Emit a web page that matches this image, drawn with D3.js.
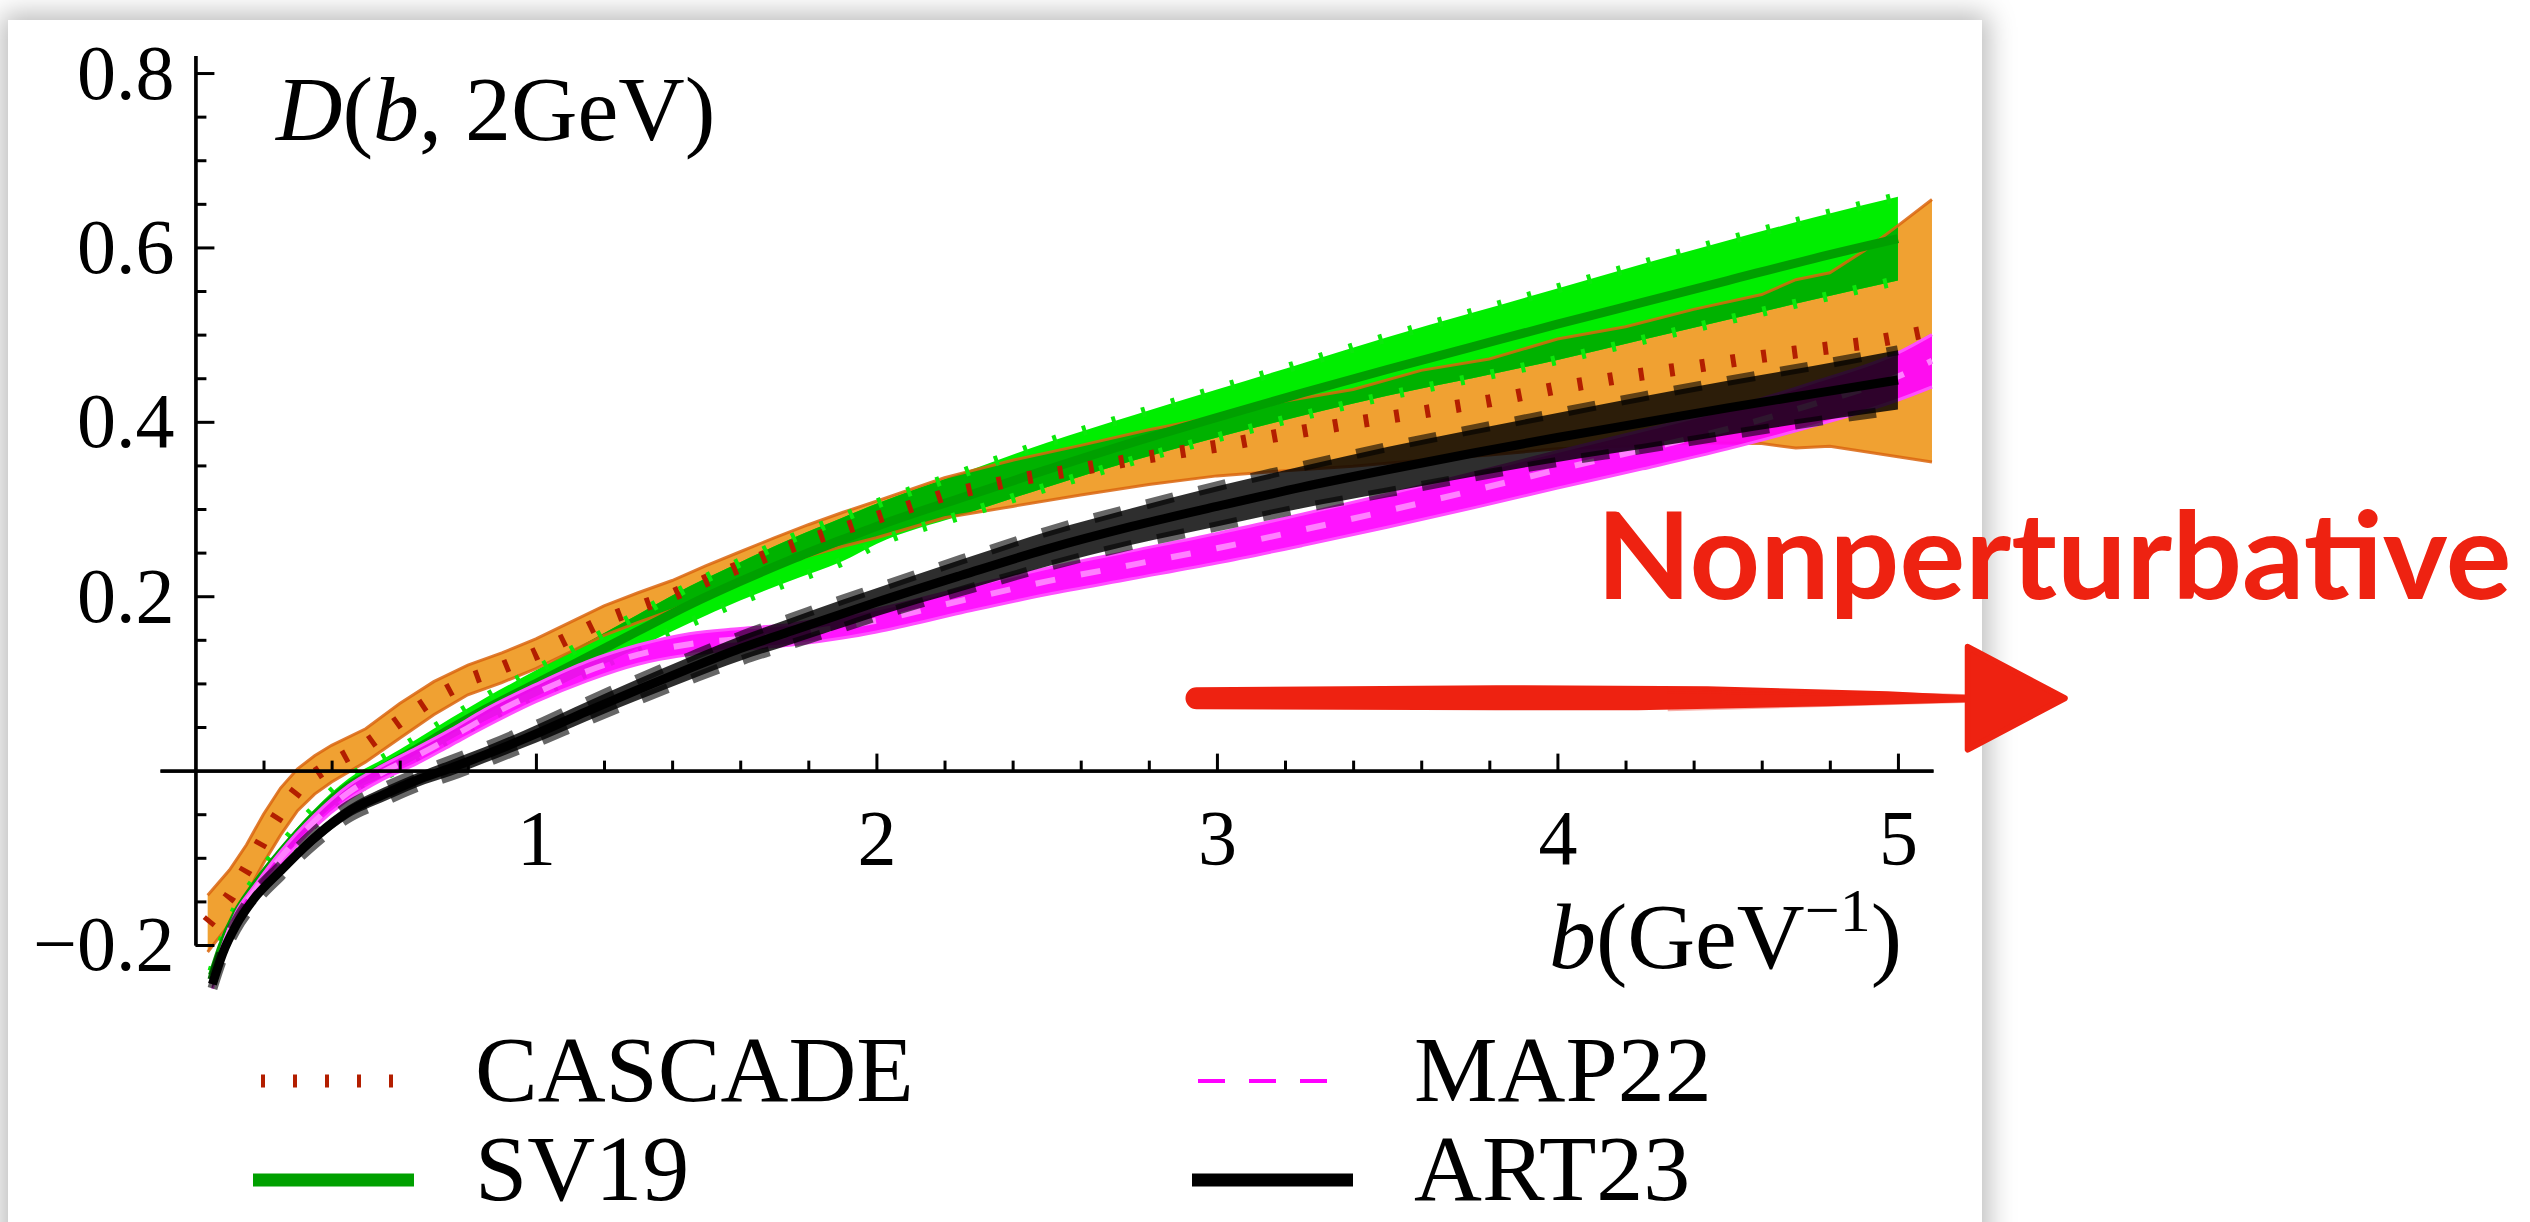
<!DOCTYPE html>
<html>
<head>
<meta charset="utf-8">
<script src="https://cdn.jsdelivr.net/npm/d3@7"></script>
<style>
  html, body { margin: 0; padding: 0; background: #fff; }
  body { width: 2530px; height: 1222px; position: relative; overflow: hidden; }
  #card { position: absolute; left: 8px; top: 20px; width: 1974px; height: 1260px;
          background: #fff; box-shadow: 0 0 26px 6px rgba(0,0,0,0.28); }
  #chart { position: absolute; left: 0; top: 0; }
  text { font-family: 'Liberation Serif', 'Times New Roman', serif; fill: #000; }
</style>
</head>
<body>
<div id="card"></div>
<svg id="chart" width="2530" height="1222"></svg>
<script>
// ---- data: D(b, 2GeV) vs b (GeV^-1) ----
const xTicks = [1, 2, 3, 4, 5];
const yTicks = [-0.2, 0.2, 0.4, 0.6, 0.8];

const cascadeB   = [0.036, 0.1, 0.15, 0.2, 0.25, 0.3, 0.35, 0.4, 0.5, 0.6, 0.7, 0.8, 0.9, 1.0, 1.1, 1.2, 1.3, 1.4, 1.5, 1.6, 1.7, 1.8, 1.9, 2.0, 2.2, 2.4, 2.6, 2.8, 3.0, 3.2, 3.4, 3.6, 3.8, 4.0, 4.2, 4.4, 4.6, 4.7, 4.8, 4.9, 5.0, 5.1];
const cascadeMid = [-0.175, -0.145, -0.113, -0.078, -0.047, -0.022, -0.005, 0.008, 0.029, 0.057, 0.083, 0.104, 0.118, 0.134, 0.153, 0.172, 0.187, 0.201, 0.218, 0.234, 0.25, 0.264, 0.277, 0.29, 0.316, 0.333, 0.346, 0.36, 0.372, 0.386, 0.399, 0.411, 0.424, 0.439, 0.452, 0.463, 0.475, 0.48, 0.485, 0.49, 0.497, 0.505];
const cascadeLo  = [-0.208, -0.176, -0.142, -0.106, -0.074, -0.046, -0.027, -0.013, 0.01, 0.037, 0.064, 0.087, 0.101, 0.117, 0.136, 0.155, 0.17, 0.184, 0.201, 0.217, 0.233, 0.246, 0.257, 0.267, 0.29, 0.303, 0.316, 0.328, 0.338, 0.344, 0.349, 0.356, 0.362, 0.369, 0.372, 0.376, 0.375, 0.37, 0.372, 0.366, 0.36, 0.354];
const cascadeHi  = [-0.143, -0.114, -0.085, -0.05, -0.02, 0.002, 0.017, 0.029, 0.048, 0.077, 0.102, 0.121, 0.135, 0.151, 0.17, 0.189, 0.204, 0.218, 0.235, 0.251, 0.267, 0.282, 0.296, 0.309, 0.336, 0.356, 0.373, 0.391, 0.406, 0.424, 0.437, 0.459, 0.472, 0.495, 0.509, 0.529, 0.546, 0.563, 0.571, 0.596, 0.625, 0.655];

const sv19B   = [0.05, 0.08, 0.12, 0.17, 0.25, 0.35, 0.45, 0.55, 0.65, 0.75, 0.85, 1.0, 1.15, 1.3, 1.45, 1.6, 1.75, 1.9, 2.0, 2.25, 2.5, 2.75, 3.0, 3.25, 3.5, 3.75, 4.0, 4.25, 4.5, 4.75, 5.0];
const sv19Mid = [-0.235, -0.2, -0.165, -0.135, -0.095, -0.052, -0.018, 0.003, 0.025, 0.048, 0.07, 0.1, 0.13, 0.16, 0.19, 0.217, 0.242, 0.265, 0.28, 0.313, 0.345, 0.376, 0.405, 0.433, 0.46, 0.486, 0.512, 0.537, 0.562, 0.587, 0.61];
const sv19Lo  = [-0.24, -0.205, -0.171, -0.141, -0.102, -0.06, -0.027, -0.007, 0.014, 0.036, 0.057, 0.085, 0.113, 0.141, 0.169, 0.195, 0.218, 0.24, 0.26, 0.293, 0.325, 0.355, 0.382, 0.407, 0.43, 0.45, 0.471, 0.494, 0.517, 0.54, 0.562];
const sv19Hi  = [-0.23, -0.195, -0.159, -0.129, -0.088, -0.044, -0.009, 0.013, 0.036, 0.06, 0.083, 0.115, 0.147, 0.179, 0.211, 0.239, 0.266, 0.29, 0.306, 0.341, 0.376, 0.407, 0.437, 0.467, 0.497, 0.525, 0.553, 0.581, 0.608, 0.634, 0.658];

const map22B   = [0.05, 0.08, 0.12, 0.17, 0.25, 0.35, 0.45, 0.55, 0.65, 0.75, 0.85, 1.0, 1.15, 1.3, 1.45, 1.6, 1.75, 1.9, 2.0, 2.25, 2.5, 2.75, 3.0, 3.25, 3.5, 3.75, 4.0, 4.25, 4.5, 4.75, 5.0, 5.1];
const map22Mid = [-0.245, -0.205, -0.168, -0.14, -0.1, -0.058, -0.025, -0.002, 0.017, 0.038, 0.06, 0.089, 0.114, 0.133, 0.145, 0.151, 0.156, 0.165, 0.172, 0.195, 0.217, 0.236, 0.255, 0.276, 0.298, 0.321, 0.345, 0.368, 0.392, 0.42, 0.452, 0.47];
const map22Lo  = [-0.25, -0.21, -0.174, -0.146, -0.107, -0.065, -0.033, -0.01, 0.008, 0.029, 0.05, 0.079, 0.103, 0.122, 0.133, 0.139, 0.144, 0.152, 0.159, 0.181, 0.202, 0.22, 0.238, 0.258, 0.279, 0.301, 0.324, 0.346, 0.369, 0.395, 0.425, 0.44];
const map22Hi  = [-0.24, -0.2, -0.162, -0.134, -0.093, -0.051, -0.017, 0.006, 0.026, 0.047, 0.07, 0.099, 0.125, 0.144, 0.157, 0.163, 0.168, 0.178, 0.185, 0.209, 0.232, 0.252, 0.272, 0.294, 0.317, 0.341, 0.366, 0.39, 0.415, 0.445, 0.479, 0.5];

const art23B   = [0.05, 0.08, 0.12, 0.17, 0.25, 0.35, 0.45, 0.55, 0.65, 0.75, 0.85, 1.0, 1.15, 1.3, 1.45, 1.6, 1.75, 1.9, 2.0, 2.25, 2.5, 2.75, 3.0, 3.25, 3.5, 3.75, 4.0, 4.25, 4.5, 4.75, 5.0];
const art23Mid = [-0.245, -0.21, -0.177, -0.148, -0.115, -0.077, -0.047, -0.028, -0.011, 0.003, 0.018, 0.042, 0.068, 0.093, 0.117, 0.14, 0.16, 0.18, 0.193, 0.224, 0.254, 0.28, 0.303, 0.325, 0.345, 0.364, 0.382, 0.399, 0.416, 0.432, 0.448];
const art23Lo  = [-0.25, -0.215, -0.182, -0.154, -0.121, -0.084, -0.054, -0.036, -0.019, -0.006, 0.009, 0.032, 0.057, 0.081, 0.104, 0.126, 0.145, 0.164, 0.177, 0.206, 0.234, 0.259, 0.28, 0.301, 0.319, 0.337, 0.354, 0.369, 0.385, 0.4, 0.414];
const art23Hi  = [-0.24, -0.205, -0.172, -0.142, -0.109, -0.07, -0.04, -0.02, -0.003, 0.012, 0.027, 0.052, 0.079, 0.105, 0.13, 0.154, 0.175, 0.196, 0.209, 0.242, 0.274, 0.301, 0.326, 0.349, 0.371, 0.391, 0.41, 0.429, 0.447, 0.464, 0.482];

const legendNames = ['CASCADE', 'MAP22', 'SV19', 'ART23'];

// annotation arrow, in data units
const arrowStart = 2.94, arrowEnd = 5.205, arrowTip = 5.49, arrowV = 0.083, arrowHead = 0.059;
const noteB = 4.115, noteV = 0.197;

// ---- setup ----
const svg = d3.select('#chart');
const x = d3.scaleLinear().domain([-0.104, 5.103]).range([160, 1933]);
const y = d3.scaleLinear().domain([-0.2, 0.82]).range([945, 55.6]);

const zip = (b, ...cols) => b.map((v, i) => [v, ...cols.map(c => c[i])]);
const cascade = zip(cascadeB, cascadeMid, cascadeLo, cascadeHi);
const sv19 = zip(sv19B, sv19Mid, sv19Lo, sv19Hi);
const map22 = zip(map22B, map22Mid, map22Lo, map22Hi);
const art23 = zip(art23B, art23Mid, art23Lo, art23Hi);

const smooth = d3.curveMonotoneX;
const band = curve => d3.area().x(d => x(d[0])).y0(d => y(d[2])).y1(d => y(d[3])).curve(curve);
const lineOf = (k, curve) => d3.line().x(d => x(d[0])).y(d => y(d[k])).curve(curve);

const defs = svg.append('defs');
defs.append('clipPath').attr('id', 'sv19clip')
  .append('path').attr('d', band(smooth)(sv19));

const plot = svg.append('g');

// CASCADE band (orange)
plot.append('path').attr('d', band(d3.curveLinear)(cascade))
  .attr('fill', '#f0a132');

// SV19 band (green), darker where it covers the orange band
plot.append('path').attr('d', band(smooth)(sv19)).attr('fill', '#00ee00');
plot.append('path').attr('d', band(d3.curveLinear)(cascade))
  .attr('clip-path', 'url(#sv19clip)').attr('fill', '#00b200');

// CASCADE band edges
[2, 3].forEach(k => plot.append('path').attr('d', lineOf(k, d3.curveLinear)(cascade))
  .attr('fill', 'none').attr('stroke', '#d9650e').attr('stroke-width', 3).attr('opacity', 0.85));

// SV19 edges (dotted) and central line
[2, 3].forEach(k => plot.append('path').attr('d', lineOf(k, smooth)(sv19))
  .attr('fill', 'none').attr('stroke', '#0be80b').attr('stroke-width', 10)
  .attr('stroke-dasharray', '4 27'));
plot.append('path').attr('d', lineOf(1, smooth)(sv19))
  .attr('fill', 'none').attr('stroke', '#00a000').attr('stroke-width', 9);

// CASCADE central dotted line
plot.append('path').attr('d', lineOf(1, d3.curveLinear)(cascade))
  .attr('fill', 'none').attr('stroke', '#b31e00').attr('stroke-width', 13)
  .attr('stroke-dasharray', '5 26');

// MAP22 band (magenta)
plot.append('path').attr('d', band(smooth)(map22)).attr('fill', '#ff00ff').attr('opacity', 0.92);
[2, 3].forEach(k => plot.append('path').attr('d', lineOf(k, smooth)(map22))
  .attr('fill', 'none').attr('stroke', '#ff50ff').attr('stroke-width', 3));
plot.append('path').attr('d', lineOf(1, smooth)(map22))
  .attr('fill', 'none').attr('stroke', '#ff80ff').attr('stroke-width', 6)
  .attr('stroke-dasharray', '20 26');

// ART23 band (black)
plot.append('path').attr('d', band(smooth)(art23)).attr('fill', 'rgba(0,0,0,0.82)');
[2, 3].forEach(k => plot.append('path').attr('d', lineOf(k, smooth)(art23))
  .attr('fill', 'none').attr('stroke', 'rgba(0,0,0,0.6)').attr('stroke-width', 10)
  .attr('stroke-dasharray', '28 26'));
plot.append('path').attr('d', lineOf(1, smooth)(art23))
  .attr('fill', 'none').attr('stroke', '#000').attr('stroke-width', 9);

// ---- axes ----
const yMinor = d3.range(-0.15, 0.8, 0.05)
  .filter(v => Math.abs(v) > 1e-6 && !yTicks.some(t => Math.abs(t - v) < 1e-6));
const xMinor = d3.range(0.2, 5.01, 0.2).filter(v => Math.abs(v - Math.round(v)) > 1e-6);

const styleAxis = g => {
  g.select('.domain').attr('stroke-width', 3.2);
  g.selectAll('.tick line').attr('stroke-width', 3);
  g.selectAll('.tick text').attr('font-size', 78);
};

svg.append('g').attr('transform', `translate(${x(0)},0)`)
  .call(d3.axisLeft(y).tickValues(yMinor).tickSizeInner(-11).tickSizeOuter(0).tickFormat(''))
  .call(styleAxis);
svg.append('g').attr('transform', `translate(${x(0)},0)`)
  .call(d3.axisLeft(y).tickValues(yTicks).tickSizeInner(-19).tickSizeOuter(0)
    .tickPadding(21).tickFormat(d3.format('.1f')))
  .call(styleAxis);

svg.append('g').attr('transform', `translate(0,${y(0)})`)
  .call(d3.axisBottom(x).tickValues(xMinor).tickSizeInner(-10).tickSizeOuter(0).tickFormat(''))
  .call(styleAxis);
svg.append('g').attr('transform', `translate(0,${y(0)})`)
  .call(d3.axisBottom(x).tickValues(xTicks).tickSizeInner(-17).tickSizeOuter(0)
    .tickPadding(38).tickFormat(d3.format('d')))
  .call(styleAxis);

// axis titles
const title = svg.append('text').attr('x', 276).attr('y', 140).attr('font-size', 92);
title.append('tspan').attr('font-style', 'italic').text('D');
title.append('tspan').text('(');
title.append('tspan').attr('font-style', 'italic').text('b');
title.append('tspan').text(', 2GeV)');

const xl = svg.append('text').attr('x', 1902).attr('y', 968).attr('font-size', 94)
  .attr('text-anchor', 'end');
xl.append('tspan').attr('font-style', 'italic').text('b');
xl.append('tspan').text('(GeV');
xl.append('tspan').attr('font-size', 62).attr('dy', -37).text('−1');
xl.append('tspan').attr('dy', 37).text(')');

// ---- legend ----
const legend = svg.append('g');
const legendRows = [
  {name: legendNames[0], x: 261, y: 1081, w: 135, stroke: '#b31e00', sw: 13, dash: '4 28'},
  {name: legendNames[1], x: 1198, y: 1081, w: 130, stroke: '#ff00ff', sw: 4, dash: '27 24'},
  {name: legendNames[2], x: 253, y: 1180, w: 161, stroke: '#00a000', sw: 13, dash: null},
  {name: legendNames[3], x: 1192, y: 1180, w: 161, stroke: '#000', sw: 13, dash: null}
];
legendRows.forEach(r => {
  legend.append('line').attr('x1', r.x).attr('x2', r.x + r.w).attr('y1', r.y).attr('y2', r.y)
    .attr('stroke', r.stroke).attr('stroke-width', r.sw)
    .attr('stroke-dasharray', r.dash);
  legend.append('text').attr('x', r.x < 1000 ? 475 : 1414).attr('y', r.y + 20)
    .attr('font-size', 94).text(r.name);
});

// ---- annotation ----
const red = '#ee2211';
const ax0 = x(arrowStart), ax1 = x(arrowEnd), ay = y(arrowV);
const brush = d3.path();
brush.moveTo(ax0, ay - 11);
brush.lineTo(ax0 + 300, ay - 13);
brush.lineTo(ax1 - 260, ay - 12);
brush.lineTo(ax1 - 80, ay - 7);
brush.lineTo(ax1, ay - 3);
brush.lineTo(ax1, ay + 4);
brush.lineTo(ax1 - 140, ay + 8);
brush.lineTo(ax1 - 330, ay + 12);
brush.lineTo(ax0 + 300, ay + 12);
brush.lineTo(ax0, ay + 11);
brush.arc(ax0, ay, 11, Math.PI / 2, 3 * Math.PI / 2);
brush.closePath();
svg.append('path').attr('d', brush.toString()).attr('fill', red);
[[-10, 0.55], [-6, 0.45], [9, 0.45], [12, 0.35]].forEach(([dy, op]) =>
  svg.append('line').attr('x1', ax1 - 300).attr('x2', ax1 + 5)
    .attr('y1', ay + dy).attr('y2', ay + dy * 0.3)
    .attr('stroke', red).attr('stroke-width', 2).attr('opacity', op));

const head = [[x(arrowEnd), y(arrowV + arrowHead)], [x(arrowTip), y(arrowV)], [x(arrowEnd), y(arrowV - arrowHead)]];
svg.append('path').attr('d', d3.line()(head) + 'Z')
  .attr('fill', red).attr('stroke', red).attr('stroke-width', 6).attr('stroke-linejoin', 'round');

svg.append('text').attr('x', x(noteB)).attr('y', y(noteV))
  .style('font-family', "Lato, 'Open Sans', sans-serif")
  .style('font-weight', '700').attr('font-size', 120)
  .attr('textLength', 915).attr('lengthAdjust', 'spacingAndGlyphs')
  .style('fill', red).text('Nonperturbative');
</script>
</body>
</html>
